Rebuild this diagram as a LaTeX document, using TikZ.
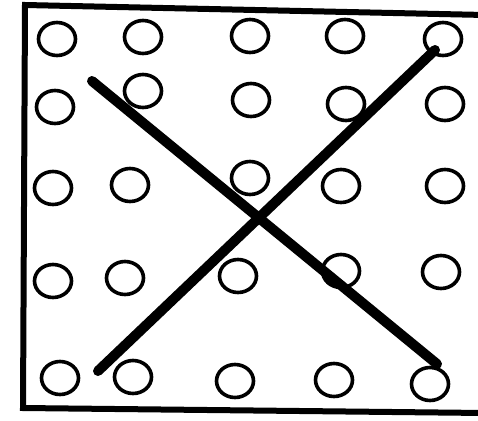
\documentclass[tikz,border=0pt]{standalone}
\usetikzlibrary{shapes.geometric}
\begin{document}
\begin{tikzpicture}[x=1pt,y=-1pt,
  peg/.style={draw=black,ellipse,line width=3.6pt,minimum width=37pt,minimum height=33pt,inner sep=0pt},
  frame/.style={line width=6pt,line join=miter},
  bar/.style={line width=10pt,line cap=round}]
\useasboundingbox (0,0) rectangle (478,420);
\fill[white] (0,0) rectangle (478,420);
% frame
\draw[frame] (485,15) -- (25,5) -- (23,408) -- (485,413);
% pegs
\foreach \n/\x/\y in {
 a1/57/39, a2/143/37, a3/250/36, a4/345/36, a5/443/39,
 b1/55/107, b2/143/91, b3/251/100, b4/346/104, b5/445/104,
 c1/53/188, c2/130/185, c3/250/178, c4/341/186, c5/445/186,
 d1/53/281, d2/125/278, d3/238/276, d4/341/271, d5/441/272,
 e1/60/378, e2/133/377, e3/235/381, e4/334/380, e5/430/384}
 \node[peg] (\n) at (\x,\y) {};
% bars
\coordinate (p1) at (92,81);
\coordinate (p2) at (437,364);
\coordinate (q1) at (98,371);
\coordinate (q2) at (435,50);
\draw[bar] (p1) -- (p2);
\draw[bar] (q1) -- (q2);
\end{tikzpicture}
\end{document}
